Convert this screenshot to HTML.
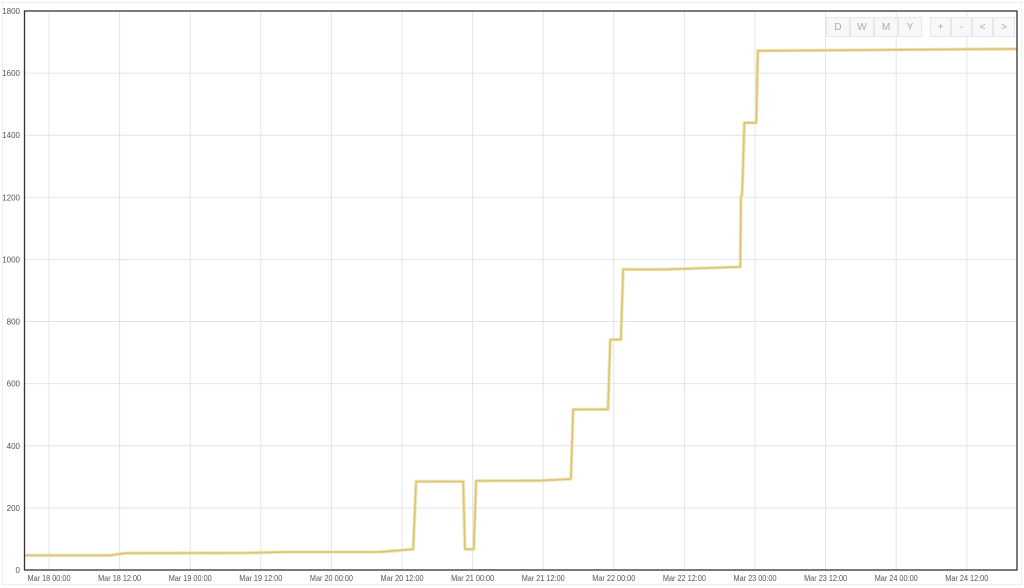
<!DOCTYPE html>
<html><head><meta charset="utf-8">
<style>
body{margin:0;background:#fff;width:1024px;height:588px;overflow:hidden;font-family:"Liberation Sans",sans-serif;}
#wrap{position:absolute;left:2px;top:2px;width:1020px;height:583px;border:1px solid #eee;box-sizing:border-box;}
.btn{position:absolute;top:17px;height:20px;font-size:10px;color:#aaa;text-align:center;line-height:20px;background:#f8f8f8;border:1px solid #e8e8e8;box-sizing:border-box;}
</style></head><body>
<div id="wrap"></div>
<svg id="chart" width="1024" height="588" style="position:absolute;left:0;top:0"></svg>
<div>
<div class="btn" style="left:826px;width:24px">D</div>
<div class="btn" style="left:850px;width:24px">W</div>
<div class="btn" style="left:874px;width:24px">M</div>
<div class="btn" style="left:898px;width:24px">Y</div>
<div class="btn" style="left:930px;width:21px">+</div>
<div class="btn" style="left:951px;width:21px">-</div>
<div class="btn" style="left:972px;width:21px">&lt;</div>
<div class="btn" style="left:993px;width:22px">&gt;</div>
</div>
<script>
const hours=[-4.1,10.4,12.9,34.2,40.1,56.3,61.9,62.4,70.4,70.7,72.2,72.6,83.5,88.7,89.1,95.0,95.4,97.2,97.6,104.7,117.5,117.6,117.8,118.2,120.2,120.5,164.5];
const values=[47,47,54,55,58,58,67,285,285,67,67,287,288,293,517,517,742,742,968,968,976,1200,1210,1440,1440,1672,1678];
const xTickLabels=["Mar 18 00:00","Mar 18 12:00","Mar 19 00:00","Mar 19 12:00","Mar 20 00:00","Mar 20 12:00","Mar 21 00:00","Mar 21 12:00","Mar 22 00:00","Mar 22 12:00","Mar 23 00:00","Mar 23 12:00","Mar 24 00:00","Mar 24 12:00"];
const yTicks=[0,200,400,600,800,1000,1200,1400,1600,1800];

const L=24.5,R=1017,T=11,B=570,yMax=1800;
const x=h=>49+h*70.6/12;
const y=v=>B-(v/yMax)*(B-T);
const svg=document.getElementById('chart');
const NS='http://www.w3.org/2000/svg';
function mk(tag,attrs){const e=document.createElementNS(NS,tag);for(const k in attrs)e.setAttribute(k,attrs[k]);svg.appendChild(e);return e;}
yTicks.forEach(v=>{
  const g=mk('line',{x1:L,x2:R,y1:y(v),y2:y(v),stroke:'#e4e4e4','stroke-width':1});
  
  
  const t=mk('text',{x:20,y:y(v)+3,'text-anchor':'end','font-size':8,fill:'#555','font-family':'Liberation Sans, sans-serif'});
  t.textContent=v;
  
  
});
xTickLabels.forEach((lab,i)=>{
  const xx=x(i*12);
  const g=mk('line',{x1:xx,x2:xx,y1:T,y2:B,stroke:'#e4e4e4','stroke-width':1});
  
  
  const t=mk('text',{x:xx,y:581,'text-anchor':'middle','font-size':8,fill:'#555','font-family':'Liberation Sans, sans-serif',textLength:43,lengthAdjust:'spacingAndGlyphs'});
  t.textContent=lab;
  
  
});
const pts=hours.map((h,i)=>x(h).toFixed(1)+','+y(values[i]).toFixed(1)).join(' ');
const glow=mk('polyline',{points:pts,fill:'none',stroke:'#f1e6bd','stroke-width':3.5,'stroke-linejoin':'round'});


const line=mk('polyline',{points:pts,fill:'none',stroke:'#dcc472','stroke-width':1.6,'stroke-linejoin':'round'});


const fr=mk('rect',{x:L,y:T,width:R-L,height:B-T,fill:'none',stroke:'#333','stroke-width':1.3});


</script>
</body></html>
